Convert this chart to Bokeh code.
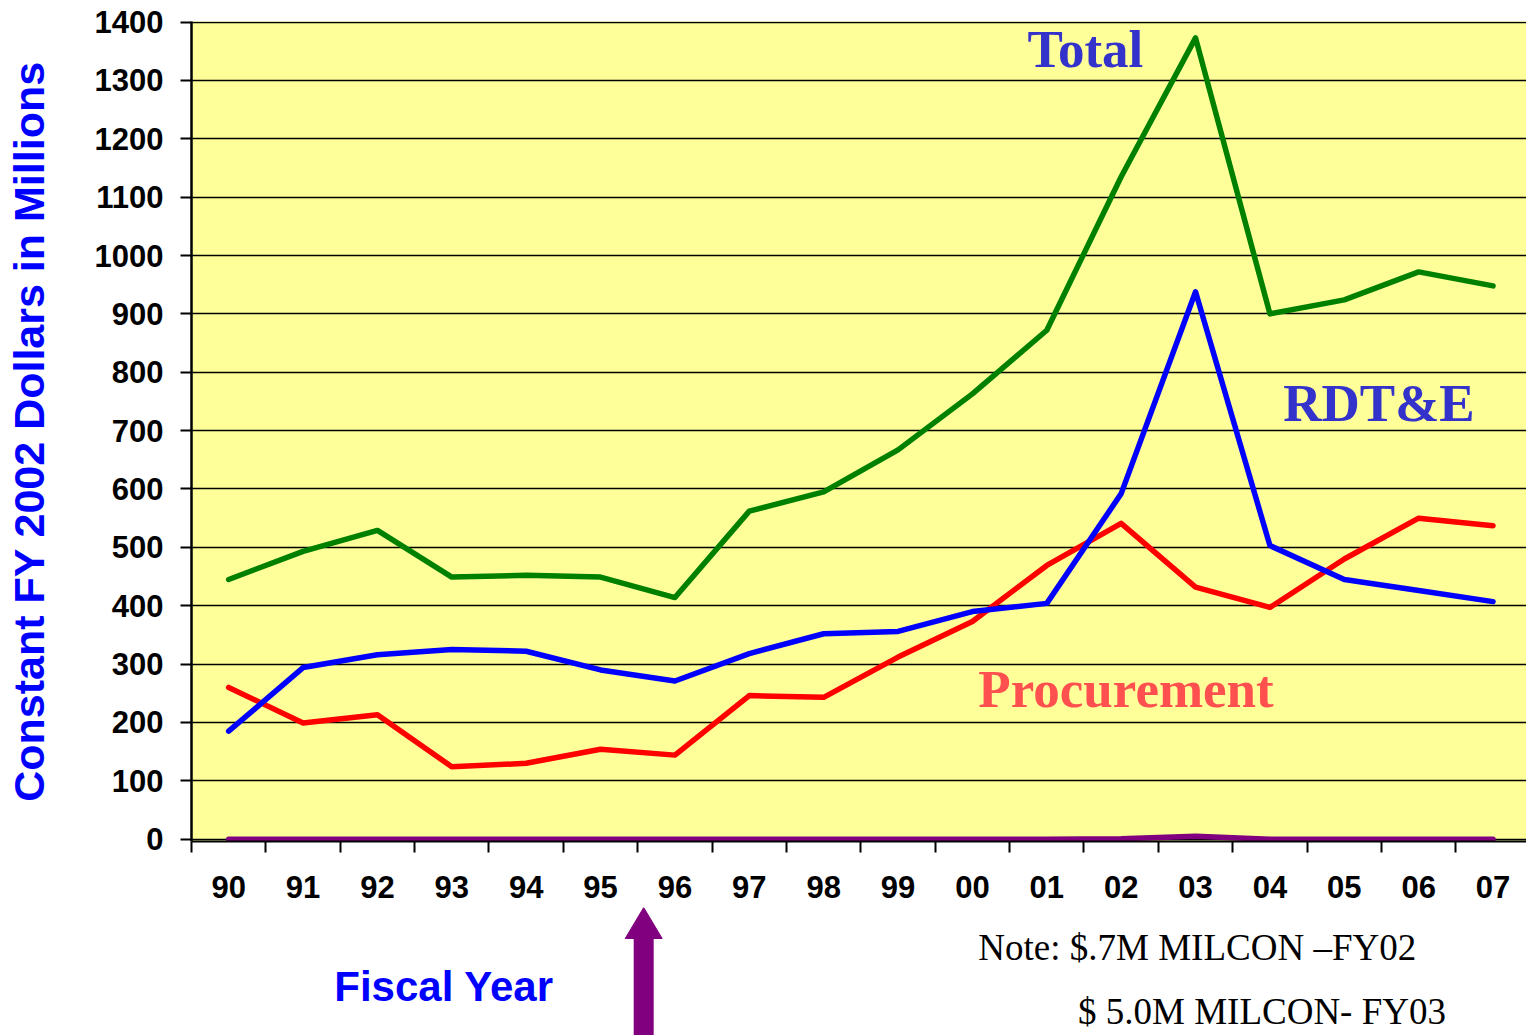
from bokeh.plotting import figure
from bokeh.layouts import column
from bokeh.models import FixedTicker, Label, Range1d
from bokeh.embed import file_html
from bokeh.resources import INLINE

years = ["90", "91", "92", "93", "94", "95", "96", "97", "98", "99",
         "00", "01", "02", "03", "04", "05", "06", "07"]
total = [445, 493, 529, 449, 452, 449, 414, 562, 595, 667, 763, 872, 1135, 1373, 900, 924, 972, 948]
rdte = [185, 294, 316, 325, 322, 290, 271, 318, 352, 356, 390, 404, 592, 938, 503, 445, 426, 407]
procurement = [260, 199, 213, 124, 130, 154, 144, 246, 243, 312, 373, 469, 541, 432, 397, 480, 550, 537]
milcon = [0, 0, 0, 0, 0, 0, 0, 0, 0, 0, 0, 0, 0.7, 5.0, 0, 0, 0, 0]
y_ticks = list(range(0, 1500, 100))

xs = list(range(len(years)))
x_range = Range1d(-0.5, 17.45)

TOP_H = 907
BOT_H = 1035 - TOP_H

p = figure(width=1526, height=TOP_H, output_backend="svg", toolbar_location=None,
           x_range=x_range, y_range=Range1d(-4, 1401),
           min_border_left=191, min_border_right=0, min_border_top=21,
           min_border_bottom=TOP_H - 841)
p.background_fill_color = "#FFFF99"
p.border_fill_color = "white"
p.outline_line_color = None

# axes
p.xaxis.ticker = FixedTicker(ticks=xs, minor_ticks=[i - 0.5 for i in xs])
p.xaxis.major_label_overrides = {i: y for i, y in zip(xs, years)}
p.xaxis.major_tick_out = 0
p.xaxis.major_tick_in = 0
p.xaxis.minor_tick_out = 11
p.xaxis.minor_tick_in = 0
p.xaxis.minor_tick_line_color = "black"
p.xaxis.minor_tick_line_width = 2
p.xaxis.axis_line_color = "black"
p.xaxis.axis_line_width = 2
p.xaxis.major_label_standoff = 23
p.xaxis.major_label_text_font = "Liberation Sans"
p.xaxis.major_label_text_font_style = "bold"
p.xaxis.major_label_text_font_size = "31px"
p.xaxis.major_label_text_color = "black"

p.yaxis.ticker = FixedTicker(ticks=y_ticks, minor_ticks=[])
p.yaxis.major_tick_out = 11
p.yaxis.major_tick_in = 0
p.yaxis.major_tick_line_width = 2
p.yaxis.major_tick_line_color = "black"
p.yaxis.axis_line_color = "black"
p.yaxis.axis_line_width = 2.5
p.yaxis.major_label_standoff = 17
p.yaxis.major_label_text_font = "Liberation Sans"
p.yaxis.major_label_text_font_style = "bold"
p.yaxis.major_label_text_font_size = "31px"
p.yaxis.major_label_text_color = "black"
p.yaxis.axis_label = "Constant FY 2002 Dollars in Millions"
p.yaxis.axis_label_text_font = "Liberation Sans"
p.yaxis.axis_label_text_font_style = "bold"
p.yaxis.axis_label_text_font_size = "43px"
p.yaxis.axis_label_text_color = "#0000FF"
p.yaxis.axis_label_standoff = 39

p.xgrid.visible = False
p.ygrid.grid_line_color = "black"
p.ygrid.grid_line_width = 1.6

# series
LW = 5.5
p.line(xs, total, line_color="#008000", line_width=LW, line_join="round", line_cap="round")
p.line(xs, procurement, line_color="#FF0000", line_width=LW, line_join="round", line_cap="round")
p.line(xs, rdte, line_color="#0000FF", line_width=LW, line_join="round", line_cap="round")
p.line(xs, milcon, line_color="#800080", line_width=LW, line_join="round", line_cap="round")


def lbl(fig, x, y, text, color, size, font="Liberation Serif", style="bold"):
    fig.add_layout(Label(x=x, y=y, text=text, text_color=color, text_font=font,
                         text_font_style=style, text_font_size=size,
                         text_align="left", text_baseline="alphabetic"))


lbl(p, 10.74, 1354, "Total", "#3333CC", "53px")
lbl(p, 14.18, 748, "RDT&E", "#3333CC", "53px")
lbl(p, 10.08, 257, "Procurement", "#FF5050", "53px")

# bottom strip: x shares the category scale, y in pixels from the page bottom
q = figure(width=1526, height=BOT_H, output_backend="svg", toolbar_location=None,
           x_range=x_range, y_range=Range1d(0, BOT_H),
           min_border_left=191, min_border_right=0, min_border_top=0, min_border_bottom=0,
           x_axis_type=None, y_axis_type=None)
q.background_fill_color = "white"
q.border_fill_color = "white"
q.outline_line_color = None
q.grid.visible = False

lbl(q, 1.42, 49, "Fiscal Year", "#0000FF", "42px", font="Liberation Sans")
lbl(q, 10.08, 88, "Note: $.7M MILCON \u2013FY02", "black", "37px", style="normal")
lbl(q, 11.42, 24, "$ 5.0M MILCON- FY03", "black", "37px", style="normal")

# upward arrow marking the FY96 boundary
arrow_x = 5.58
px_per_unit = (1526 - 191) / (x_range.end - x_range.start)
head_half = 18.5 / px_per_unit
shaft_half = 10 / px_per_unit
tip, base, tail = BOT_H, BOT_H - 31, 0
q.quad(left=[arrow_x - shaft_half], right=[arrow_x + shaft_half], bottom=[tail], top=[base + 1],
       fill_color="#800080", line_color=None)
q.patch([arrow_x - head_half, arrow_x, arrow_x + head_half], [base, tip, base],
        fill_color="#800080", line_color="#800080", line_width=1)

open("out.html", "w").write(file_html(column(p, q, spacing=0), INLINE))
